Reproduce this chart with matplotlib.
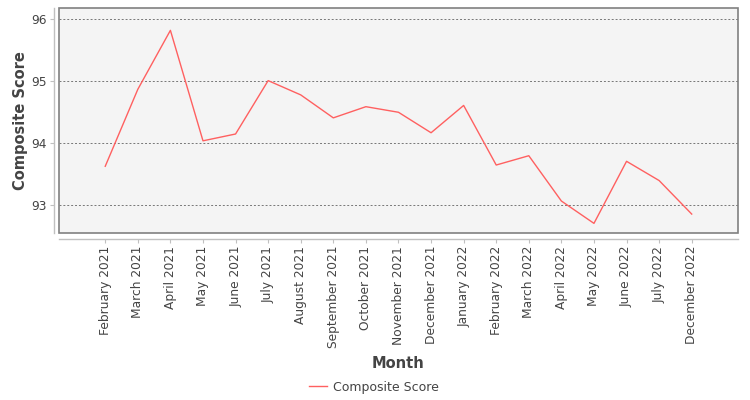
import matplotlib
matplotlib.use("Agg")
import matplotlib.pyplot as plt
from matplotlib.patches import Rectangle

months = ["February 2021", "March 2021", "April 2021", "May 2021", "June 2021",
          "July 2021", "August 2021", "September 2021", "October 2021",
          "November 2021", "December 2021", "January 2022", "February 2022",
          "March 2022", "April 2022", "May 2022", "June 2022", "July 2022",
          "December 2022"]
scores = [93.63, 94.87, 95.82, 94.04, 94.15, 95.01, 94.78, 94.41, 94.59,
          94.50, 94.17, 94.61, 93.65, 93.80, 93.07, 92.71, 93.71, 93.40, 92.86]
y_ticks = [93, 94, 95, 96]

plt.rcParams['font.family'] = ['DejaVu Sans']
fig = plt.figure(figsize=(7.5, 4), dpi=100)
ax = fig.add_axes([59.3/750, 1-233.3/400, (738.3-59.3)/750, (233.3-8)/400])
ax.set_facecolor('#f4f4f4')

x = list(range(len(months)))
ax.plot(x, scores, color='#ff6060', linewidth=1.0, label='Composite Score')

ax.set_xlim(-1.41, len(months) - 1 + 1.43)
ax.set_ylim(92.55, 96.18)
ax.set_yticks(y_ticks)
ax.set_yticklabels([str(v) for v in y_ticks])
ax.set_xticks(x)
ax.set_xticklabels(months)

ax.grid(axis='y', color='#777777', linestyle=(0, (2, 2)), linewidth=0.7)
ax.set_axisbelow(True)

for s in ['top', 'right']:
    ax.spines[s].set_visible(False)
for s in ['left', 'bottom']:
    ax.spines[s].set_position(('outward', 4))
    ax.spines[s].set_color('#c0c0c0')
    ax.spines[s].set_linewidth(1.0)

ax.add_patch(Rectangle((0, 0), 1, 1, transform=ax.transAxes, fill=False,
                       edgecolor='#808080', linewidth=1.2, clip_on=False, zorder=5))

ax.tick_params(axis='both', colors='#c0c0c0', labelcolor='#444444',
               labelsize=8.8, length=3, width=0.8)
ax.tick_params(axis='x', pad=2, labelrotation=90)
ax.tick_params(axis='y', pad=2)

ax.set_ylabel('Composite Score', fontsize=10.5, fontweight='bold', color='#444444')
ax.yaxis.set_label_coords(-(59.3-28)/679, 0.5)
ax.set_xlabel('Month', fontsize=10.5, fontweight='bold', color='#444444')
ax.xaxis.set_label_coords((398-59.3)/679, -(356-233.3)/225.3)

leg = fig.legend(loc='center', bbox_to_anchor=(374/750, 1-387/400), frameon=False,
                 fontsize=9, handlelength=1.4, handletextpad=0.5)
for t in leg.get_texts():
    t.set_color('#444444')

fig.savefig('out.png', dpi=100)
